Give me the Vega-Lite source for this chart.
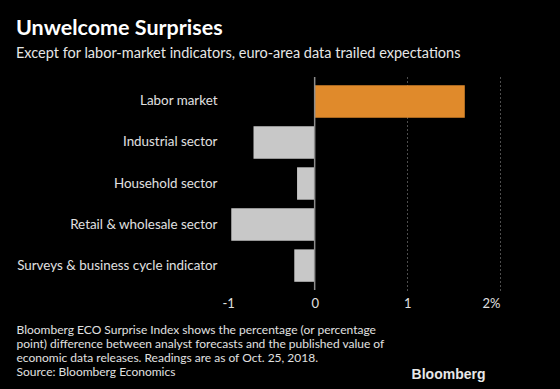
{
  "$schema": "https://vega.github.io/schema/vega-lite/v6.json",
  "width": 278,
  "height": 213,
  "autosize": {"type": "none"},
  "padding": {"left": 222, "top": 77, "right": 60, "bottom": 99},
  "background": "#000000",
  "config": {
    "view": {"stroke": null},
    "font": "Lato",
    "title": {"color": "#ffffff"}
  },
  "title": {
    "text": "Unwelcome Surprises",
    "subtitle": "Except for labor-market indicators, euro-area data trailed expectations",
    "anchor": "start",
    "frame": "group",
    "dx": -206,
    "offset": 16,
    "fontSize": 21.5,
    "fontWeight": "bold",
    "font": "Lato",
    "color": "#ffffff",
    "subtitleFontSize": 14.5,
    "subtitleColor": "#e6e6e6",
    "subtitleFont": "Lato",
    "subtitlePadding": 7
  },
  "data": {
    "values": [
      {"category": "Labor market", "value": 1.62, "group": "labor"},
      {"category": "Industrial sector", "value": -0.66, "group": "other"},
      {"category": "Household sector", "value": -0.19, "group": "other"},
      {"category": "Retail & wholesale sector", "value": -0.9, "group": "other"},
      {"category": "Surveys & business cycle indicator", "value": -0.22, "group": "other"}
    ]
  },
  "layer": [
    {
      "mark": {"type": "bar"},
      "encoding": {
        "y": {
          "field": "category",
          "type": "nominal",
          "sort": null,
          "scale": {"paddingInner": 0.21, "paddingOuter": 0.2},
          "axis": {
            "title": "Bloomberg",
            "titleAngle": 0,
            "titleX": 263,
            "titleY": 301,
            "titleAlign": "right",
            "titleBaseline": "alphabetic",
            "titleFontSize": 14,
            "titleFontWeight": "bold",
            "titleColor": "#e8e8e8",
            "titleFont": "Liberation Sans",
            "ticks": false,
            "domain": false,
            "labelPadding": 5,
            "labelFontSize": 13.4,
            "labelColor": "#e0e0e0",
            "labelFont": "Lato",
            "labelLimit": 260
          }
        },
        "x": {
          "field": "value",
          "type": "quantitative",
          "scale": {"domain": [-1, 2], "nice": false},
          "axis": {
            "values": [-1, 0, 1, 2],
            "labelExpr": "datum.value == 2 ? '2%' : '' + datum.value",
            "ticks": false,
            "domain": false,
            "labelPadding": 7,
            "labelFontSize": 13,
            "labelColor": "#e0e0e0",
            "labelFont": "Lato",
            "grid": true,
            "gridDash": [1, 3],
            "gridColor": "#9a9a9a",
            "gridOpacity": {"condition": {"test": "datum.value <= 0", "value": 0}, "value": 1},
            "title": [
              "Bloomberg ECO Surprise Index shows the percentage (or percentage",
              "point) difference between analyst forecasts and the published value of",
              "economic data releases. Readings are as of Oct. 25, 2018.",
              "Source: Bloomberg Economics"
            ],
            "titleAnchor": "start",
            "titleAlign": "left",
            "titleBaseline": "alphabetic",
            "titleX": -206,
            "titleY": 43,
            "titleLineHeight": 14.2,
            "titleFontSize": 12,
            "titleFontWeight": "normal",
            "titleColor": "#e0e0e0",
            "titleFont": "Lato"
          }
        },
        "color": {
          "field": "group",
          "type": "nominal",
          "scale": {"domain": ["labor", "other"], "range": ["#e08a2b", "#c8c8c8"]},
          "legend": null
        }
      }
    },
    {
      "data": {"values": [{"zero": 0}]},
      "mark": {"type": "rule", "color": "#8c8c8c", "strokeWidth": 1.5},
      "encoding": {
        "x": {"field": "zero", "type": "quantitative"}
      }
    }
  ]
}
